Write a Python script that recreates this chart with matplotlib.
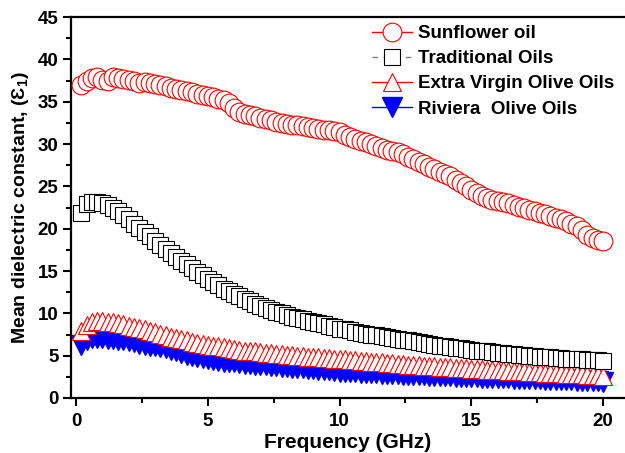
import numpy as np
import matplotlib
matplotlib.use('Agg')
import matplotlib.pyplot as plt
from matplotlib.ticker import MultipleLocator

plt.rcParams['font.family'] = ['Liberation Sans', 'DejaVu Sans']
plt.rcParams['font.weight'] = 'bold'
plt.rcParams['mathtext.default'] = 'regular'

# frecuencia (GHz), paso de 0.2
frecuencia = np.round(np.arange(1, 101) * 0.2, 1)

girasol = [37.0, 37.5, 37.8, 37.9, 37.6, 37.5, 37.9, 37.8, 37.7, 37.6,
           37.4, 37.2, 37.3, 37.2, 37.1, 37.0, 36.8, 36.6, 36.5, 36.4,
           36.3, 36.1, 35.9, 35.8, 35.7, 35.5, 35.3, 35.2, 34.9, 34.2,
           33.8, 33.6, 33.4, 33.3, 33.1, 32.9, 32.8, 32.6, 32.5, 32.4,
           32.3, 32.2, 32.1, 32.0, 31.9, 31.8, 31.7, 31.6, 31.5, 31.4,
           31.1, 30.8, 30.6, 30.4, 30.2, 30.0, 29.8, 29.5, 29.3, 29.2,
           29.0, 28.8, 28.5, 28.2, 27.9, 27.6, 27.3, 27.0, 26.7, 26.5,
           26.2, 25.8, 25.4, 25.0, 24.6, 24.2, 23.9, 23.6, 23.4, 23.3,
           23.2, 23.0, 22.8, 22.6, 22.4, 22.2, 22.1, 21.9, 21.7, 21.5,
           21.3, 21.1, 20.9, 20.6, 20.3, 19.8, 19.3, 18.9, 18.7, 18.5]

tradicional = [21.8, 22.9, 23.1, 23.1, 23.0, 22.8, 22.5, 22.1, 21.6, 21.1,
               20.6, 20.1, 19.6, 19.1, 18.6, 18.1, 17.6, 17.1, 16.7, 16.2,
               15.8, 15.4, 14.9, 14.5, 14.1, 13.7, 13.3, 12.9, 12.6, 12.3,
               12.0, 11.7, 11.4, 11.1, 10.9, 10.6, 10.4, 10.2, 10.0, 9.8,
               9.6, 9.5, 9.3, 9.1, 9.0, 8.8, 8.7, 8.5, 8.4, 8.2,
               8.1, 8.0, 7.8, 7.7, 7.6, 7.5, 7.4, 7.3, 7.2, 7.1,
               7.0, 6.9, 6.8, 6.7, 6.6, 6.5, 6.4, 6.3, 6.2, 6.1,
               6.0, 5.9, 5.85, 5.8, 5.7, 5.6, 5.55, 5.5, 5.4, 5.35,
               5.3, 5.2, 5.15, 5.1, 5.05, 5.0, 4.95, 4.9, 4.85, 4.8,
               4.75, 4.7, 4.65, 4.6, 4.6, 4.55, 4.5, 4.5, 4.45, 4.4]

extra_virgen = [7.9, 8.6, 9.0, 9.1, 9.1, 9.0, 8.95, 8.85, 8.7, 8.55,
                8.4, 8.25, 8.1, 7.9, 7.75, 7.6, 7.4, 7.25, 7.1, 6.95,
                6.8, 6.65, 6.5, 6.4, 6.3, 6.2, 6.1, 6.0, 5.9, 5.8,
                5.7, 5.6, 5.55, 5.5, 5.4, 5.35, 5.3, 5.2, 5.15, 5.1,
                5.05, 5.0, 4.95, 4.9, 4.85, 4.8, 4.75, 4.7, 4.65, 4.6,
                4.55, 4.5, 4.45, 4.4, 4.35, 4.3, 4.25, 4.2, 4.15, 4.1,
                4.05, 4.0, 3.95, 3.9, 3.85, 3.8, 3.78, 3.75, 3.72, 3.7,
                3.65, 3.6, 3.55, 3.5, 3.45, 3.4, 3.37, 3.34, 3.31, 3.28,
                3.25, 3.22, 3.19, 3.16, 3.13, 3.1, 3.07, 3.04, 3.01, 2.98,
                2.95, 2.92, 2.89, 2.86, 2.83, 2.8, 2.76, 2.72, 2.68, 2.65]

riviera = [6.3, 6.9, 7.1, 7.1, 7.1, 7.0, 7.0, 6.9, 6.8, 6.7,
           6.6, 6.4, 6.3, 6.2, 6.1, 6.0, 5.9, 5.7, 5.5, 5.3,
           5.1, 5.0, 4.8, 4.7, 4.6, 4.5, 4.4, 4.3, 4.25, 4.2,
           4.1, 4.05, 4.0, 3.95, 3.9, 3.85, 3.8, 3.75, 3.7, 3.65,
           3.6, 3.55, 3.5, 3.45, 3.4, 3.35, 3.3, 3.25, 3.2, 3.1,
           3.08, 3.05, 3.02, 3.0, 2.97, 2.94, 2.91, 2.88, 2.85, 2.82,
           2.8, 2.77, 2.74, 2.72, 2.7, 2.67, 2.64, 2.62, 2.6, 2.57,
           2.55, 2.52, 2.5, 2.48, 2.46, 2.44, 2.42, 2.4, 2.38, 2.36,
           2.34, 2.32, 2.3, 2.28, 2.26, 2.24, 2.22, 2.2, 2.18, 2.16,
           2.14, 2.12, 2.1, 2.08, 2.06, 2.04, 2.02, 2.0, 1.95, 1.9]

fig = plt.figure(figsize=(6.25, 4.53), dpi=100)
ax = fig.add_axes([71/625, 1-398/453, 1-71/625, (398-17)/453])

# orden de dibujo: azul abajo, luego rojo, cuadros y circulos
ax.plot(frecuencia, riviera, color='blue', lw=1, marker='v', ms=14,
        mfc='blue', mec='blue', label='Riviera  Olive Oils', zorder=2)
ax.plot(frecuencia, extra_virgen, color='red', lw=1, marker='^', ms=12.5,
        mfc='white', mec='red', mew=0.8, label='Extra Virgin Olive Oils', zorder=3)
ax.plot(frecuencia, tradicional, color='gray', lw=1, ls=(0, (4, 4)), marker='s', ms=11,
        mfc='white', mec='black', mew=0.8, label='Traditional Oils', zorder=4)
ax.plot(frecuencia, girasol, color='red', lw=1, marker='o', ms=13.5,
        mfc='white', mec='red', mew=0.8, label='Sunflower oil', zorder=5)

ax.set_xlim(-0.19, 20.83)
ax.set_ylim(0, 45)
ax.xaxis.set_major_locator(MultipleLocator(5))
ax.xaxis.set_minor_locator(MultipleLocator(2.5))
ax.yaxis.set_major_locator(MultipleLocator(5))
ax.yaxis.set_minor_locator(MultipleLocator(2.5))
ax.tick_params(which='major', direction='out', length=6, width=1.5, labelsize=13.5)
ax.tick_params(axis='x', which='major', pad=5)
ax.tick_params(axis='y', which='major', pad=3)
ax.tick_params(which='minor', direction='out', length=3.5, width=1.5)
for lab in ax.get_xticklabels() + ax.get_yticklabels():
    lab.set_fontweight('bold')
for s in ['left', 'bottom', 'top']:
    ax.spines[s].set_linewidth(1.6)
ax.spines['right'].set_visible(False)

ax.set_xlabel('Frequency (GHz)', fontsize=15, fontweight='bold', labelpad=2)
ax.set_ylabel('Mean dielectric constant, (Ɛ$_1$)', fontsize=14, fontweight='bold', labelpad=5)

h, l = ax.get_legend_handles_labels()
fig.legend(h[::-1], l[::-1], loc='upper left', bbox_to_anchor=(372/625, 1-25/453),
           frameon=False, borderpad=0, borderaxespad=0, handlelength=2.15,
           handletextpad=0.3, labelspacing=0.43, prop={'weight': 'bold', 'size': 13.5})

plt.savefig('out.png', dpi=100)
